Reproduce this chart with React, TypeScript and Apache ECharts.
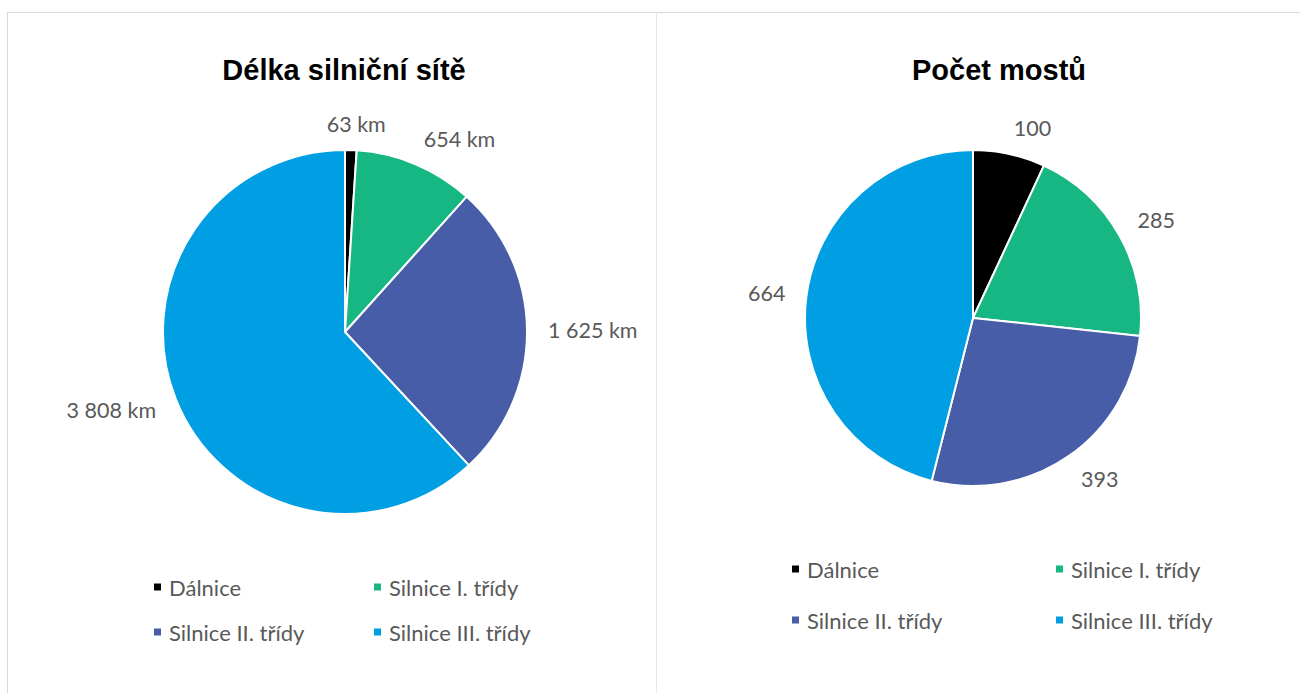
import React, { useEffect, useRef } from "react";
import * as echarts from "echarts";

const categories = ["Dálnice", "Silnice I. třídy", "Silnice II. třídy", "Silnice III. třídy"];
const roadLengthKm = [63, 654, 1625, 3808];
const bridgeCounts = [100, 285, 393, 664];
const titles = ["Délka silniční sítě", "Počet mostů"];
const colors = ["#000000", "#17B784", "#475DA8", "#009FE3"];

const LABEL_FONT = "Lato, 'Noto Sans', sans-serif";
const TITLE_FONT = "'Liberation Sans', Arial, sans-serif";
const TEXT_GRAY = "#595959";

function fmtKm(v: number) {
  return String(v).replace(/\B(?=(\d{3})+(?!\d))/g, " ") + " km";
}

export default function App() {
  const ref = useRef<HTMLDivElement>(null);
  useEffect(() => {
    document.body.style.margin = "0";
    if (!ref.current) return;
    const chart = echarts.init(ref.current, null, { renderer: "svg" });

    const pies = [
      { cx: 345, cy: 332, r: 182, values: roadLengthKm, fmt: fmtKm },
      { cx: 973, cy: 318, r: 168, values: bridgeCounts, fmt: (v: number) => String(v) },
    ];
    const GAP_X = 21;
    const GAP_Y = 14;
    const clamp = (t: number) => Math.max(-1, Math.min(1, t));

    const makeLayout = (p: typeof pies[0]) => (params: any) => {
      const total = p.values.reduce((a, b) => a + b, 0);
      let cum = 0;
      for (let i = 0; i < params.dataIndex; i++) cum += p.values[i];
      const mid = ((cum + p.values[params.dataIndex] / 2) / total) * Math.PI * 2;
      const dx = Math.sin(mid);
      const dy = -Math.cos(mid);
      const w = params.labelRect.width;
      const h = params.labelRect.height;
      const px = p.cx + (p.r + GAP_X) * dx;
      const py = p.cy + (p.r + GAP_Y) * dy;
      return {
        x: px + (w / 2) * clamp(dx / 0.2),
        y: py + (h / 2) * clamp(dy / 0.7),
        align: "center",
        verticalAlign: "middle",
      };
    };

    const series = pies.map((p) => ({
      type: "pie",
      center: [p.cx, p.cy],
      radius: p.r,
      startAngle: 90,
      clockwise: true,
      silent: true,
      itemStyle: { borderColor: "#ffffff", borderWidth: 2 },
      label: {
        show: true,
        position: "outside",
        formatter: (prm: any) => p.fmt(prm.value),
        fontFamily: LABEL_FONT,
        fontSize: 21.5,
        lineHeight: 24,
        color: TEXT_GRAY,
      },
      labelLine: { show: false },
      labelLayout: makeLayout(p),
      data: categories.map((c, i) => ({ name: c, value: p.values[i], itemStyle: { color: colors[i] } })),
    }));

    const legendPos = [
      // left panel
      { left: 152, top: 587 }, { left: 372, top: 587 },
      { left: 152, top: 632 }, { left: 372, top: 632 },
      // right panel
      { left: 790, top: 569 }, { left: 1054, top: 569 },
      { left: 790, top: 620 }, { left: 1054, top: 620 },
    ];
    const legends = legendPos.map((pos, k) => ({
      left: pos.left,
      top: pos.top - 12,
      padding: 0,
      data: [categories[k % 4]],
      icon: "rect",
      itemWidth: 9,
      itemHeight: 9,
      selectedMode: false,
      textStyle: {
        fontFamily: LABEL_FONT,
        fontSize: 22,
        lineHeight: 24,
        color: TEXT_GRAY,
        padding: [0, 0, 0, 2],
      },
    }));

    chart.setOption({
      animation: false,
      title: [
        { text: titles[0], left: 339, top: 50, textAlign: "center",
          textStyle: { fontFamily: TITLE_FONT, fontWeight: "bold", fontSize: 29, color: "#000" } },
        { text: titles[1], left: 994, top: 50, textAlign: "center",
          textStyle: { fontFamily: TITLE_FONT, fontWeight: "bold", fontSize: 29, color: "#000" } },
      ],
      legend: legends,
      graphic: [
        { type: "line", shape: { x1: 7, y1: 12.5, x2: 1300, y2: 12.5 }, style: { stroke: "#d9d9d9", lineWidth: 1 } },
        { type: "line", shape: { x1: 7.5, y1: 12, x2: 7.5, y2: 693 }, style: { stroke: "#d9d9d9", lineWidth: 1 } },
        { type: "line", shape: { x1: 656.5, y1: 12, x2: 656.5, y2: 693 }, style: { stroke: "#e6e6e6", lineWidth: 1 } },
      ],
      series,
    });
    return () => chart.dispose();
  }, []);
  return <div ref={ref} style={{ width: 1300, height: 693 }} />;
}
